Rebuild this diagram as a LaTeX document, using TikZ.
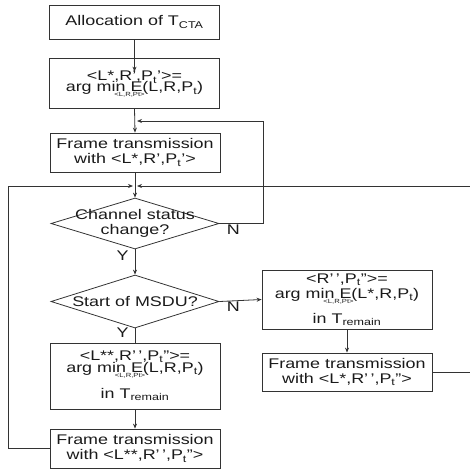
\documentclass[tikz,border=0pt]{standalone}
\usepackage{fontspec}
\setmainfont[FakeStretch=1.28]{Liberation Sans}
\usetikzlibrary{arrows.meta, positioning, shapes.geometric}
\definecolor{lngray}{HTML}{333333}
\definecolor{txtblack}{HTML}{1A1A1A}

% arg min with the small index under "min"
\newcommand{\argminsub}[1]{arg min\makebox[0pt]{\smash{\raisebox{-5pt}{\hspace{8pt}\fontsize{6}{6}\selectfont <L,R,Pt>}}} E(#1)}

\begin{document}
\begin{tikzpicture}[
    x=1pt, y=-1pt,
    >={Stealth[length=5pt, width=4pt]},
    every node/.style={text=txtblack, font=\fontsize{14}{15}\selectfont},
    procbox/.style={draw=lngray, line width=0.8pt, rectangle, inner sep=0pt,
      minimum width=170pt, align=center},
    decide/.style={draw=lngray, line width=0.8pt, diamond, inner sep=0pt,
      minimum width=168pt},
    flow/.style={lngray, line width=0.8pt},
  ]
  \useasboundingbox (0,0) rectangle (470,469);

  % ===== Main column =====
  \node[procbox, minimum height=34pt] (alloc) at (134.5,22)
    {Allocation of T\textsubscript{CTA}};
  \node[procbox, minimum height=50pt] (optA) at (134.5,83)
    {<L*,R',P\textsubscript{t}'>=\\[-4pt]\argminsub{L,R,P\textsubscript{t}}};
  \node[procbox, minimum height=39pt] (txA) at (135,152.5)
    {Frame transmission\\with <L*,R',P\textsubscript{t}'>};

  % Decisions
  \node[decide, minimum height=51pt] (chg) at (135,223.5) {};
  \node[align=center] (chgtxt) at (chg) {Channel status\\change?};
  \node[decide, minimum height=53pt] (msdu) at (135,301.5) {};
  \node (msdutxt) at (msdu) {Start of MSDU?};

  \node[procbox, minimum height=66pt] (optB) at (135,376)
    {<L**,R'\,',P\textsubscript{t}''>=\\[-3pt]\argminsub{L,R,P\textsubscript{t}}\\[11pt]in T\textsubscript{remain}};
  \node[procbox, minimum height=39pt] (txB) at (135,448.5)
    {Frame transmission\\with <L**,R'\,',P\textsubscript{t}''>};

  % ===== Right column =====
  \node[procbox, minimum height=59pt] (optC) at (347,299.5)
    {<R'\,',P\textsubscript{t}''>=\\\argminsub{L*,R,P\textsubscript{t}}\\[10pt]in T\textsubscript{remain}};
  \node[procbox, minimum height=38pt] (txC) at (347,372)
    {Frame transmission\\with <L*,R'\,',P\textsubscript{t}''>};

  % ===== Loop points =====
  \coordinate (retA) at (263,121);
  \coordinate (mergeA) at (137,121);
  \coordinate (loopL) at (8,186);
  \coordinate (mergeL) at (133,186);
  \coordinate (edgeR) at (470,186);
  \coordinate (mergeR) at (137,186);
  \coordinate (edgeC) at (470,372);

  % ===== Connectors =====
  \draw[flow, ->] (alloc.south) -- ([yshift=-14pt]optA.north);
  \draw[flow, ->] (optA.south) -- (txA.north);
  \draw[flow, ->] (chg.east) -| node[pos=0.16, below, inner sep=1pt] {N} (retA) -- (mergeA);
  \draw[flow, ->] (txA.south) -- (chg.north);
  \draw[flow, ->] (txB.west) -| (loopL) -- (mergeL);
  \draw[flow, ->] (edgeR) -- (mergeR);
  \draw[flow, ->] (chg.south) -- (msdu.north)
    node[pos=0.23, left, inner sep=1pt, xshift=-5pt] {Y};
  \draw[flow, ->] (msdu.east) -- (optC.west)
    node[pos=0.33, below, inner sep=1pt] {N};
  \draw[flow] (msdu.south) -- (optB.north)
    node[pos=0.27, left, inner sep=1pt, xshift=-5pt] {Y};
  \draw[flow, ->] (optB.south) -- (txB.north);
  \draw[flow, ->] (optC.south) -- (txC.north);
  \draw[flow] (txC.east) -- (edgeC);

\end{tikzpicture}
\end{document}
